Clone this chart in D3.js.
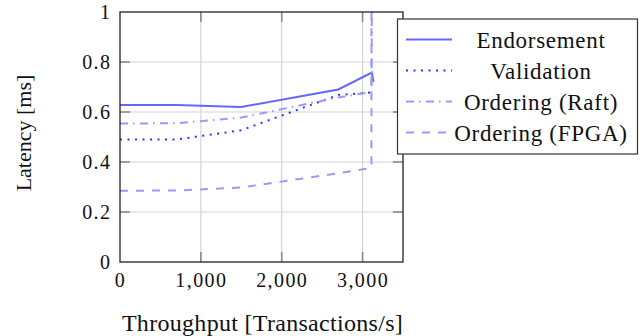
<!DOCTYPE html>
<html>
<head>
<meta charset="utf-8">
<script src="https://cdn.jsdelivr.net/npm/d3@7"></script>
<style>
  html, body { margin: 0; padding: 0; background: #fff; }
  svg text { font-family: 'Liberation Serif', 'Times New Roman', 'DejaVu Serif', serif !important; }
</style>
</head>
<body>
<svg id="chart" width="643" height="336"></svg>
<script>
// Throughput (transactions/s) vs. latency (ms) for each pipeline phase
const endorsement = [[0, 0.628], [700, 0.628], [1500, 0.620], [2700, 0.690], [3115, 0.758], [3135, 0.720]];
const validation  = [[0, 0.490], [700, 0.490], [1500, 0.527], [2700, 0.668], [3110, 0.678], [3135, 0.682]];
const orderingRaft = [[0, 0.554], [700, 0.555], [1500, 0.578], [2700, 0.658], [3110, 0.680], [3118, 1.200]];
const orderingFpga = [[0, 0.285], [700, 0.286], [1500, 0.298], [2700, 0.355], [3080, 0.375], [3110, 0.380], [3110, 1.200]];

const seriesNames = ["Endorsement", "Validation", "Ordering (Raft)", "Ordering (FPGA)"];
const xTicks = [0, 1000, 2000, 3000];
const yTicks = [0, 0.2, 0.4, 0.6, 0.8, 1];
const xTickLabels = ["0", "1,000", "2,000", "3,000"];
const yTickLabels = ["0", "0.2", "0.4", "0.6", "0.8", "1"];
const xTitle = "Throughput [Transactions/s]";
const yTitle = "Latency [ms]";

const series = [
  { name: seriesNames[0], values: endorsement, color: "#6666ff", dash: null,            width: 2 },
  { name: seriesNames[1], values: validation,  color: "#3333ff", dash: "2,5.5",         width: 2 },
  { name: seriesNames[2], values: orderingRaft, color: "#9999ff", dash: "8,5,1.5,5.5",  width: 2 },
  { name: seriesNames[3], values: orderingFpga, color: "#9999ff", dash: "8,8",          width: 2 }
];

const plot = { left: 120, right: 403, top: 12, bottom: 262 };
const svg = d3.select("#chart");

const x = d3.scaleLinear().domain([0, 3500]).range([plot.left, plot.right]);
const y = d3.scaleLinear().domain([0, 1]).range([plot.bottom, plot.top]);

// grid
const grid = svg.append("g");
grid.selectAll(".gx").data(xTicks.filter(d => d > 0)).join("line")
  .attr("x1", d => x(d)).attr("x2", d => x(d))
  .attr("y1", plot.top).attr("y2", plot.bottom)
  .attr("stroke", "#d4d4d4").attr("stroke-width", 1.2);
grid.selectAll(".gy").data(yTicks.filter(d => d > 0 && d < 1)).join("line")
  .attr("x1", plot.left).attr("x2", plot.right)
  .attr("y1", d => y(d)).attr("y2", d => y(d))
  .attr("stroke", "#d4d4d4").attr("stroke-width", 1.2);

// inward tick marks on all four sides
const tl = 10;
const ticks = svg.append("g").attr("stroke", "#8a8a8a").attr("stroke-width", 1.6);
xTicks.filter(d => d > 0).forEach(d => {
  ticks.append("line").attr("x1", x(d)).attr("x2", x(d)).attr("y1", plot.bottom).attr("y2", plot.bottom - tl);
  ticks.append("line").attr("x1", x(d)).attr("x2", x(d)).attr("y1", plot.top).attr("y2", plot.top + tl);
});
yTicks.filter(d => d > 0 && d < 1).forEach(d => {
  ticks.append("line").attr("x1", plot.left).attr("x2", plot.left + tl).attr("y1", y(d)).attr("y2", y(d));
  ticks.append("line").attr("x1", plot.right).attr("x2", plot.right - tl).attr("y1", y(d)).attr("y2", y(d));
});

// data lines
svg.append("clipPath").attr("id", "plotclip").append("rect")
  .attr("x", plot.left).attr("y", plot.top)
  .attr("width", plot.right - plot.left).attr("height", plot.bottom - plot.top);

const line = d3.line().x(d => x(d[0])).y(d => y(d[1]));
svg.append("g").attr("clip-path", "url(#plotclip)")
  .selectAll("path").data(series).join("path")
  .attr("d", d => line(d.values))
  .attr("fill", "none")
  .attr("stroke", d => d.color)
  .attr("stroke-width", d => d.width)
  .attr("stroke-dasharray", d => d.dash)
  .attr("stroke-linejoin", "miter");

// frame
svg.append("rect")
  .attr("x", plot.left).attr("y", plot.top)
  .attr("width", plot.right - plot.left).attr("height", plot.bottom - plot.top)
  .attr("fill", "none").attr("stroke", "#222").attr("stroke-width", 1.3);

// axes labels
const xAxis = d3.axisBottom(x).tickValues(xTicks).tickSize(0).tickPadding(11)
  .tickFormat((d, i) => xTickLabels[i]);
const yAxis = d3.axisLeft(y).tickValues(yTicks).tickSize(0).tickPadding(10)
  .tickFormat((d, i) => yTickLabels[i]);

const gx = svg.append("g").attr("transform", `translate(0,${plot.bottom})`).call(xAxis);
const gy = svg.append("g").attr("transform", `translate(${plot.left},0)`).call(yAxis);
[gx, gy].forEach(g => {
  g.attr("font-family", null).attr("font-size", null);
  g.select(".domain").remove();
  g.selectAll("text").attr("font-size", 20).attr("letter-spacing", 1.4).attr("fill", "#111");
});
// keep right-aligned y labels flush with the axis despite trailing letter-spacing
gy.selectAll("text").attr("dx", 1.4);

svg.append("text")
  .attr("x", (plot.left + plot.right) / 2 + 1).attr("y", 331)
  .attr("text-anchor", "middle").attr("font-size", 24).attr("letter-spacing", 0.3).attr("fill", "#111")
  .text(xTitle);
svg.append("text")
  .attr("transform", `translate(31,${133}) rotate(-90)`)
  .attr("text-anchor", "middle").attr("font-size", 22).attr("fill", "#111")
  .text(yTitle);

// legend
const lg = svg.append("g");
lg.append("rect").attr("x", 397.5).attr("y", 19).attr("width", 240).attr("height", 135)
  .attr("fill", "#fff").attr("stroke", "#333").attr("stroke-width", 1.2);
const rows = lg.selectAll("g.row").data(series).join("g")
  .attr("transform", (d, i) => `translate(0,${39.5 + i * 31})`);
rows.append("line").attr("x1", 406).attr("x2", 452).attr("y1", 0).attr("y2", 0)
  .attr("stroke", d => d.color).attr("stroke-width", d => d.width)
  .attr("stroke-dasharray", d => d.dash);
rows.append("text").attr("x", 541).attr("y", 0).attr("dy", "0.35em")
  .attr("text-anchor", "middle").attr("font-size", 23).attr("letter-spacing", 0.7).attr("fill", "#111")
  .text(d => d.name);
</script>
</body>
</html>
